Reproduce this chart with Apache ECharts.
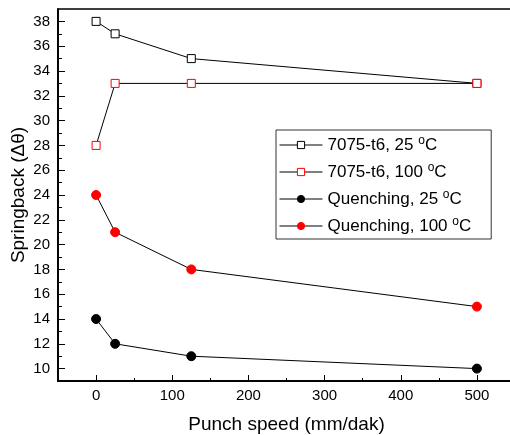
<!DOCTYPE html>
<html><head><meta charset="utf-8">
<script src="https://cdn.jsdelivr.net/npm/echarts@6/dist/echarts.min.js"></script>
<style>html,body{margin:0;padding:0;background:#fff}#c{width:510px;height:435px}</style>
</head><body><div id="c"></div>
<script>
const speeds = [0, 25, 125, 500];
const t6_25 = [38, 37, 35, 33];
const t6_100 = [28, 33, 33, 33];
const q_25 = [14, 12, 11, 10];
const q_100 = [24, 21, 18, 15];
const xMajor = [0, 100, 200, 300, 400, 500];
const xMinor = [50, 150, 250, 350, 450];
const yMajor = [10, 12, 14, 16, 18, 20, 22, 24, 26, 28, 30, 32, 34, 36, 38];
const yMinor = [11, 13, 15, 17, 19, 21, 23, 25, 27, 29, 31, 33, 35, 37];
const names = ['7075-t6, 25 °C', '7075-t6, 100 °C', 'Quenching, 25 °C', 'Quenching, 100 °C'];

const FONT = 'Liberation Sans, Arial, sans-serif';
const chart = echarts.init(document.getElementById('c'), null, {renderer: 'canvas'});
const pair = arr => speeds.map((s, i) => [s, arr[i]]);
function mk(name, data, symbol, fill, stroke, size) {
  return {
    name, type: 'line', data: pair(data), symbol, symbolSize: size,
    xAxisIndex: 0, yAxisIndex: 0,
    lineStyle: {color: '#000', width: 1},
    itemStyle: {color: fill, borderColor: stroke, borderWidth: 1},
    emphasis: {disabled: true}, animation: false, z: 3
  };
}
const axisCommon = {
  axisLine: {show: true, onZero: false, lineStyle: {color: '#000', width: 1.5}},
  splitLine: {show: false}
};
chart.setOption({
  animation: false,
  grid: {left: 58, top: 9, width: 457, height: 372, show: true, borderColor: '#000', borderWidth: 1.5,
    containLabel: false, outerBoundsMode: 'none'},
  xAxis: [
    Object.assign({type: 'value', min: -50, max: 550,
      name: 'Punch speed (mm/dak)', nameLocation: 'middle', nameGap: 34, nameMoveOverlap: false,
      nameTextStyle: {fontFamily: FONT, fontSize: 19, color: '#000'},
      axisTick: {show: true, inside: true, length: 6, customValues: xMajor, lineStyle: {color: '#000', width: 1}},
      axisLabel: {customValues: xMajor, fontFamily: FONT, fontSize: 15, color: '#000', margin: 7}}, axisCommon),
    Object.assign({type: 'value', min: -50, max: 550, position: 'bottom',
      axisTick: {show: true, inside: true, length: 3, customValues: xMinor, lineStyle: {color: '#000', width: 1}},
      axisLabel: {show: false}}, axisCommon)
  ],
  yAxis: [
    Object.assign({type: 'value', min: 9, max: 39,
      name: 'Springback (Δθ)', nameLocation: 'middle', nameGap: 30, nameMoveOverlap: false,
      nameTextStyle: {fontFamily: FONT, fontSize: 19, color: '#000'},
      axisTick: {show: true, inside: true, length: 7, customValues: yMajor, lineStyle: {color: '#000', width: 1}},
      axisLabel: {customValues: yMajor, fontFamily: FONT, fontSize: 15, color: '#000', margin: 8}}, axisCommon),
    Object.assign({type: 'value', min: 9, max: 39, position: 'left',
      axisTick: {show: true, inside: true, length: 4, customValues: yMinor, lineStyle: {color: '#000', width: 1}},
      axisLabel: {show: false}}, axisCommon)
  ],
  legend: {
    orient: 'vertical', left: 276, top: 130,
    padding: [5, 20, 2, 3], itemGap: 6, itemWidth: 43, itemHeight: 9,
    borderColor: '#333', borderWidth: 1, backgroundColor: '#fff',
    itemStyle: {borderWidth: 1}, lineStyle: {width: 1},
    data: names,
    formatter: n => n.replace(' °C', ' {sup|o}C'),
    textStyle: {fontFamily: FONT, fontSize: 17, lineHeight: 20, color: '#000',
      rich: {sup: {fontFamily: FONT, fontSize: 12, lineHeight: 20, color: '#000', verticalAlign: 'top', padding: [0, 0, 9, 0]}}}
  },
  series: [
    mk(names[0], t6_25, 'rect', '#fff', '#000', 8),
    mk(names[1], t6_100, 'rect', '#fff', '#f00', 8),
    mk(names[2], q_25, 'circle', '#000', '#000', 9),
    mk(names[3], q_100, 'circle', '#f00', '#f00', 9)
  ]
});
</script></body></html>
